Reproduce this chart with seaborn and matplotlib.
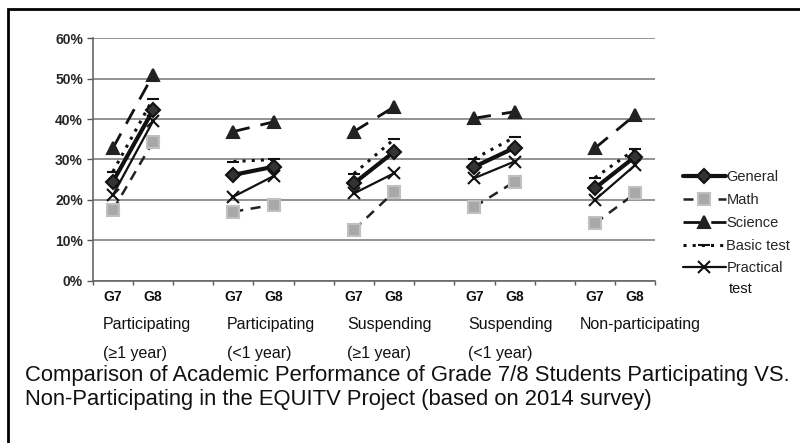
import numpy as np
import pandas as pd
import seaborn as sns
import matplotlib.pyplot as plt
from matplotlib.patches import Rectangle
from matplotlib.lines import Line2D

# data (percent)
groups = ["Participating", "Participating", "Suspending", "Suspending", "Non-participating"]
group_notes = ["(\u22651 year)", "(<1 year)", "(\u22651 year)", "(<1 year)", ""]
grades = ["G7", "G8"]
series = ["General", "Math", "Science", "Basic test", "Practical"]

general = [24.5, 42.2, 26.2, 28.2, 24.1, 31.9, 28.2, 32.9, 22.9, 30.7]
math = [17.5, 34.4, 17.1, 18.8, 12.6, 22.0, 18.3, 24.5, 14.2, 21.6]
science = [32.8, 50.9, 36.9, 39.3, 36.9, 43.0, 40.2, 41.8, 32.8, 41.0]
basic = [27.0, 45.0, 29.5, 30.0, 26.5, 35.0, 30.2, 35.5, 25.5, 32.5]
practical = [21.2, 39.5, 20.8, 25.9, 21.6, 26.6, 25.4, 29.5, 20.0, 28.6]

values = [general, math, science, basic, practical]

styles = {
    "General": dict(color="#111111", lw=3.0, ls="-", marker="D", ms=7, mfc="#333333", mec="#111111"),
    "Math": dict(color="#222222", lw=1.8, ls=(0, (4, 3)), marker="s", ms=9, mfc="#a8a8a8", mec="#c0c0c0"),
    "Science": dict(color="#111111", lw=2.0, ls=(0, (6, 4)), marker="^", ms=9, mfc="#222222", mec="#222222"),
    "Basic test": dict(color="#111111", lw=2.2, ls=(0, (1, 2)), marker="_", ms=8, mfc="#111111", mec="#111111"),
    "Practical": dict(color="#111111", lw=1.6, ls="-", marker="x", ms=9, mfc="#111111", mec="#111111"),
}

rows = []
for s, vals in zip(series, values):
    for g in range(len(groups)):
        for k in range(2):
            rows.append({"series": s, "group": g, "pos": g * 3 + k, "value": vals[g * 2 + k]})
df = pd.DataFrame(rows)

sns.set_style("white")
plt.rcParams["font.family"] = ["Liberation Sans", "DejaVu Sans"]

fig = plt.figure(figsize=(8, 4.43), dpi=100)
ax = fig.add_axes([0.116, 0.366, 0.703, 0.548])

handles = []
for s in series:
    st = styles[s]
    kw = dict(color=st["color"], lw=st["lw"], linestyle=st["ls"], marker=st["marker"],
              markersize=st["ms"], markerfacecolor=st["mfc"], markeredgecolor=st["mec"],
              markeredgewidth=1.5)
    sns.lineplot(data=df[df.series == s], x="pos", y="value", units="group",
                 estimator=None, ax=ax, legend=False, zorder=3, **kw)
    handles.append(Line2D([], [], label=s, **kw))

ax.set_xlim(-0.5, 13.5)
ax.set_ylim(0, 60)
ax.set_yticks(range(0, 61, 10))
ax.set_yticklabels([f"{v}%" for v in range(0, 61, 10)], fontsize=10, fontweight="bold")
ax.yaxis.grid(True, color="#8a8a8a", lw=1.3)
ax.set_axisbelow(True)
ax.tick_params(axis="y", left=True, length=4, width=1, color="#555555", pad=3)

ax.set_xticks(np.arange(-0.5, 14, 1))
ax.set_xticklabels([])
ax.tick_params(axis="x", bottom=True, length=3, width=1, color="#555555")
for sp in ["top", "right"]:
    ax.spines[sp].set_visible(False)
for sp in ["left", "bottom"]:
    ax.spines[sp].set_color("#666666")
    ax.spines[sp].set_linewidth(1.2)
ax.set_xlabel("")
ax.set_ylabel("")

# category labels
trans = ax.get_xaxis_transform()
offsets = [-0.25, -0.16, -0.17, -0.16, -0.37]
for g in range(len(groups)):
    for k, gr in enumerate(grades):
        ax.text(g * 3 + k, -0.068, gr, transform=trans, ha="center", va="center",
                fontsize=10, fontweight="bold", color="#111111")
    ax.text(g * 3 + offsets[g], -0.18, groups[g], transform=trans, ha="left",
            va="center", fontsize=11.5, color="#111111")
    ax.text(g * 3 + offsets[g], -0.30, group_notes[g], transform=trans, ha="left",
            va="center", fontsize=11.5, color="#111111")

ax.legend(handles=handles, loc="upper left", bbox_to_anchor=(1.05, 0.455), frameon=False,
          fontsize=10.5, handlelength=2.9, handletextpad=0.05, labelspacing=0.6,
          borderaxespad=0, borderpad=0)
fig.text(729 / 800, 1 - 289 / 443, "test", ha="left", va="center", fontsize=10.5,
         color="#111111")

fig.text(25 / 800, 1 - 375 / 443, "Comparison of Academic Performance of Grade 7/8 Students Participating VS.",
         ha="left", va="center", fontsize=15.8, color="#111111")
fig.text(25 / 800, 1 - 399 / 443, "Non-Participating in the EQUITV Project (based on 2014 survey)",
         ha="left", va="center", fontsize=15.8, color="#111111")

fig.patches.append(Rectangle((8 / 800, -0.05), 1.1, 1 - 9 / 443 + 0.05,
                             transform=fig.transFigure, fill=False,
                             edgecolor="black", lw=2, clip_on=False))

fig.savefig("out.png", dpi=100)
